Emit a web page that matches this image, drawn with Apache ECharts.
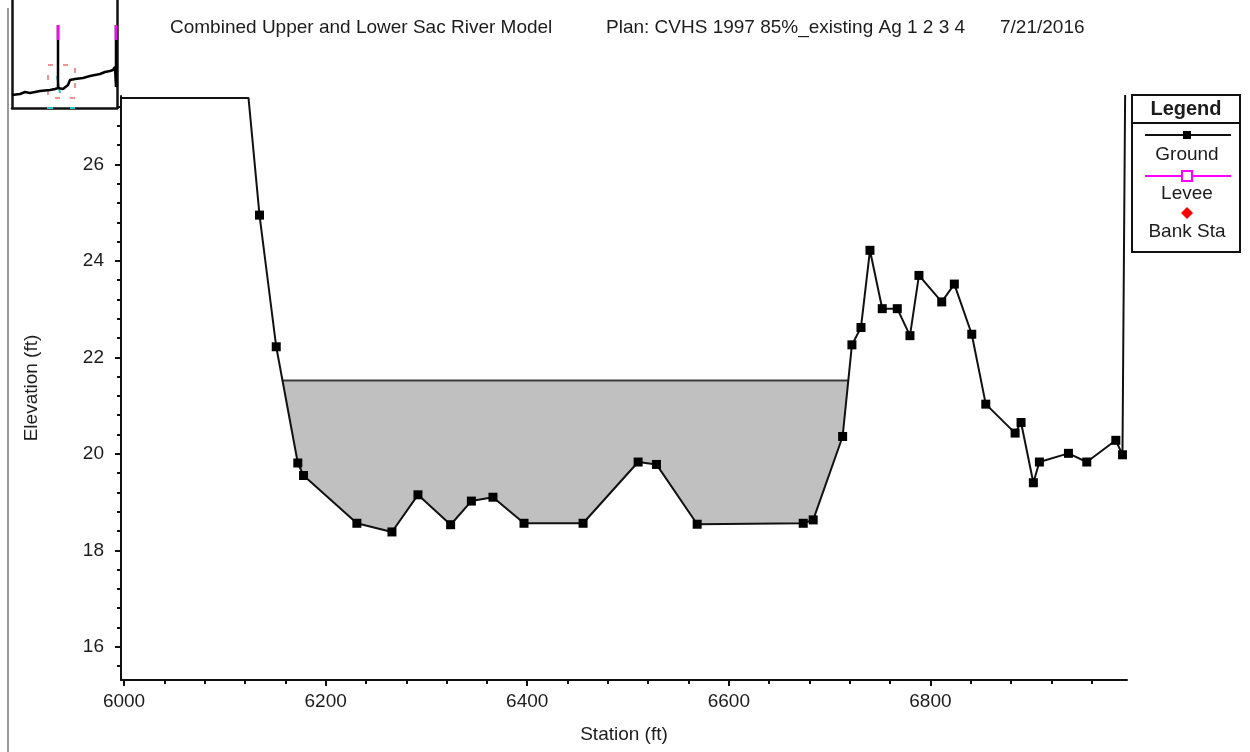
<!DOCTYPE html>
<html>
<head>
<meta charset="utf-8">
<script src="https://cdn.jsdelivr.net/npm/echarts@6/dist/echarts.min.js"></script>
<style>
  html, body { margin: 0; padding: 0; background: #fff; }
  #container { width: 1250px; height: 752px; }
</style>
</head>
<body>
<div id="container"></div>
<script>
var dom = document.getElementById("container");
var myChart = echarts.init(dom);
var option;

// ground profile (station ft / elevation ft)
var groundStation = [5990, 6123.5, 6134.4, 6151.0, 6172.4, 6178.1, 6231.0, 6265.8, 6291.6, 6324.0,
  6344.6, 6366.0, 6396.8, 6455.4, 6510.0, 6528.2, 6568.6, 6673.8, 6683.7, 6712.9,
  6722.1, 6731.1, 6740.0, 6752.2, 6767.1, 6779.7, 6788.6, 6811.2, 6823.7, 6841.0,
  6854.9, 6884.0, 6889.9, 6902.1, 6908.1, 6936.9, 6955.1, 6983.9, 6990.5, 6993.2];
var groundElev = [27.38, 27.38, 24.95, 22.22, 19.81, 19.55, 18.56, 18.38, 19.15, 18.53,
  19.02, 19.10, 18.56, 18.56, 19.83, 19.78, 18.54, 18.56, 18.63, 20.36,
  22.26, 22.62, 24.22, 23.01, 23.01, 22.45, 23.70, 23.15, 23.52, 22.48,
  21.03, 20.43, 20.65, 19.40, 19.83, 20.01, 19.83, 20.28, 19.98, 27.6];
// points drawn without a marker (off the plot / end points)
var groundNoMarker = [0, 1, 39];

// water surface
var wsStation = [6157.2, 6718.5];
var wsElev = 21.52;

// axis ticks
var xMajorTicks = [6000, 6200, 6400, 6600, 6800];
var xMinorTicks = [6040, 6080, 6120, 6160, 6240, 6280, 6320, 6360, 6440, 6480, 6520, 6560,
  6640, 6680, 6720, 6760, 6840, 6880, 6920, 6960];
var yMajorTicks = [16, 18, 20, 22, 24, 26];
var yMinorTicks = [15.6, 16.4, 16.8, 17.2, 17.6, 18.4, 18.8, 19.2, 19.6, 20.4, 20.8, 21.2, 21.6,
  22.4, 22.8, 23.2, 23.6, 24.4, 24.8, 25.2, 25.6, 26.4, 26.8, 27.2];

// overview thumbnail (top left), relative units
var insetX = [0, 8, 13, 18, 28, 38, 43, 46, 46, 46, 48, 51, 56, 58, 63, 71, 78, 88, 93, 98, 101, 103, 104, 104];
var insetY = [13, 14, 16, 15, 17, 18, 19, 20, 83, 20, 20, 19, 23, 28, 29, 30, 32, 34, 36, 37, 38, 41, 21, 83];
var insetLeveeX = [46, 104];
var insetLeveeY = [68, 83];

var FONT = "'Liberation Sans', Arial, sans-serif";
var TXT = "#1c1c1c";

var groundData = groundStation.map(function (s, i) {
  var item = { value: [s, groundElev[i]] };
  if (groundNoMarker.indexOf(i) >= 0) item.symbol = "none";
  return item;
});
var wsData = wsStation.map(function (s) { return [s, wsElev]; });
var insetData = insetX.map(function (x, i) { return [x, insetY[i]]; });

var xMin = 5997, xMax = 6995, yMin = 15.31, yMax = 27.42;

var series = [
  {
    name: "WS",
    type: "line",
    data: wsData,
    symbol: "none",
    lineStyle: { color: "#3a3a3a", width: 2 },
    areaStyle: { color: "#c0c0c0", opacity: 1, origin: "start" },
    z: 2,
    silent: true
  },
  {
    name: "Ground",
    type: "line",
    data: groundData,
    symbol: "rect",
    symbolSize: 9,
    itemStyle: { color: "#000" },
    lineStyle: { color: "#111", width: 2 },
    areaStyle: { color: "#fff", opacity: 1, origin: "start" },
    z: 3,
    silent: true
  },
  {
    name: "overview",
    type: "line",
    xAxisIndex: 2,
    yAxisIndex: 2,
    data: insetData,
    symbol: "none",
    lineStyle: { color: "#000", width: 2.5 },
    silent: true
  }
];
insetLeveeX.forEach(function (x) {
  series.push({
    type: "line",
    xAxisIndex: 2,
    yAxisIndex: 2,
    data: insetLeveeY.map(function (y) { return [x, y]; }),
    symbol: "none",
    lineStyle: { color: "#ff00ff", width: 2.5 },
    z: 4,
    silent: true
  });
});

var titleStyle = { fontFamily: FONT, fontSize: 19, fontWeight: "normal", color: TXT };

option = {
  animation: false,
  title: [
    { text: "Combined Upper and Lower Sac River Model", left: 165, top: 13, textStyle: titleStyle },
    { text: "Plan: CVHS 1997 85%_existing Ag 1 2 3 4", left: 601, top: 13, textStyle: titleStyle },
    { text: "7/21/2016", left: 995, top: 13, textStyle: titleStyle }
  ],
  grid: [
    { left: 121, top: 96, width: 1006, height: 584 },
    { left: 12, top: 0, width: 105, height: 108 }
  ],
  xAxis: [
    {
      type: "value", gridIndex: 0, min: xMin, max: xMax, position: "bottom",
      name: "Station (ft)", nameLocation: "middle", nameGap: 45,
      nameTextStyle: { fontFamily: FONT, fontSize: 19, color: TXT },
      axisLine: { lineStyle: { color: "#111", width: 2 } },
      axisTick: { customValues: xMajorTicks, length: 6, lineStyle: { color: "#111", width: 2 } },
      axisLabel: {
        customValues: xMajorTicks, margin: 12, fontFamily: FONT, fontSize: 19, color: TXT,
        formatter: function (v) { return String(v); }
      },
      splitLine: { show: false },
      z: 5
    },
    {
      type: "value", gridIndex: 0, min: xMin, max: xMax, position: "bottom",
      axisLine: { show: false },
      axisTick: { customValues: xMinorTicks, length: 4, lineStyle: { color: "#111", width: 2 } },
      axisLabel: { show: false },
      splitLine: { show: false },
      z: 5
    },
    {
      type: "value", gridIndex: 1, min: 0, max: 105, show: true,
      axisLine: { lineStyle: { color: "#111", width: 2.5 } },
      axisTick: { show: false }, axisLabel: { show: false }, splitLine: { show: false }
    }
  ],
  yAxis: [
    {
      type: "value", gridIndex: 0, min: yMin, max: yMax, position: "left",
      name: "Elevation (ft)", nameLocation: "middle", nameGap: 80, nameRotate: 90,
      nameTextStyle: { fontFamily: FONT, fontSize: 19, color: TXT },
      axisLine: { show: true, lineStyle: { color: "#111", width: 2 } },
      axisTick: { show: true, customValues: yMajorTicks, length: 6, lineStyle: { color: "#111", width: 2 } },
      axisLabel: { customValues: yMajorTicks, margin: 17, fontFamily: FONT, fontSize: 19, color: TXT },
      splitLine: { show: false },
      z: 5
    },
    {
      type: "value", gridIndex: 0, min: yMin, max: yMax, position: "left",
      axisLine: { show: false },
      axisTick: { show: true, customValues: yMinorTicks, length: 4, lineStyle: { color: "#111", width: 2 } },
      axisLabel: { show: false },
      splitLine: { show: false },
      z: 5
    },
    {
      type: "value", gridIndex: 1, min: 0, max: 108,
      axisLine: { show: true, lineStyle: { color: "#111", width: 2.5 } },
      axisTick: { show: false }, axisLabel: { show: false }, splitLine: { show: false }
    },
    {
      type: "value", gridIndex: 1, min: 0, max: 108, position: "right",
      axisLine: { show: true, lineStyle: { color: "#111", width: 2.5 } },
      axisTick: { show: false }, axisLabel: { show: false }, splitLine: { show: false }
    }
  ],
  graphic: [
    // thumbnail decorations
    { type: "line", shape: { x1: 8, y1: 8, x2: 8, y2: 752 }, style: { stroke: "#9a9a9a", lineWidth: 2 } },
    { type: "rect", shape: { x: 48, y: 65, width: 27, height: 33 },
      style: { fill: null, stroke: "#f07070", lineWidth: 1.5, lineDash: [5, 10] } },
    { type: "line", shape: { x1: 57, y1: 76, x2: 60, y2: 93 }, style: { stroke: "#30c0c0", lineWidth: 2 } },
    { type: "line", shape: { x1: 47, y1: 108, x2: 53, y2: 108 }, style: { stroke: "#30c0c0", lineWidth: 2 }, z: 10 },
    { type: "line", shape: { x1: 70, y1: 108, x2: 75, y2: 108 }, style: { stroke: "#30c0c0", lineWidth: 2 }, z: 10 },
    // legend box
    { type: "rect", shape: { x: 1132, y: 95, width: 108, height: 157 },
      style: { fill: "#fff", stroke: "#111", lineWidth: 2 } },
    { type: "line", shape: { x1: 1132, y1: 123, x2: 1240, y2: 123 }, style: { stroke: "#111", lineWidth: 2 } },
    { type: "text", x: 1186, y: 109,
      style: { text: "Legend", font: "bold 20px " + FONT, fill: TXT, align: "center", verticalAlign: "middle" } },
    { type: "line", shape: { x1: 1145, y1: 135, x2: 1231, y2: 135 }, style: { stroke: "#111", lineWidth: 2 } },
    { type: "rect", shape: { x: 1183, y: 131, width: 8, height: 8 }, style: { fill: "#000" } },
    { type: "text", x: 1187, y: 155,
      style: { text: "Ground", font: "19px " + FONT, fill: TXT, align: "center", verticalAlign: "middle" } },
    { type: "line", shape: { x1: 1145, y1: 176, x2: 1231, y2: 176 }, style: { stroke: "#ff00ff", lineWidth: 2 } },
    { type: "rect", shape: { x: 1182, y: 171, width: 10, height: 10 }, style: { fill: "#fff", stroke: "#ff00ff", lineWidth: 2 } },
    { type: "text", x: 1187, y: 194,
      style: { text: "Levee", font: "19px " + FONT, fill: TXT, align: "center", verticalAlign: "middle" } },
    { type: "polygon", shape: { points: [[1187, 207], [1193, 213], [1187, 219], [1181, 213]] }, style: { fill: "#ff0000" } },
    { type: "text", x: 1187, y: 232,
      style: { text: "Bank Sta", font: "19px " + FONT, fill: TXT, align: "center", verticalAlign: "middle" } }
  ],
  series: series
};

myChart.setOption(option);
</script>
</body>
</html>
